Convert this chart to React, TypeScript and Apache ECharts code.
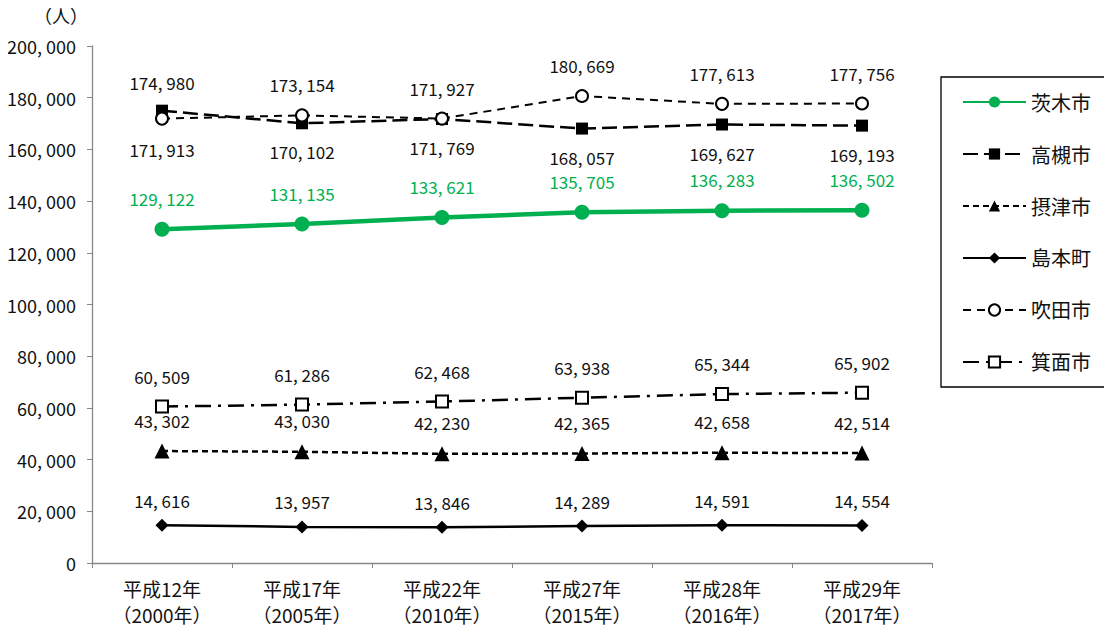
import React, { useEffect, useRef } from "react";
import * as echarts from "echarts";

const categories = ["平成12年\n（2000年）", "平成17年\n（2005年）", "平成22年\n（2010年）", "平成27年\n（2015年）", "平成28年\n（2016年）", "平成29年\n（2017年）"];
const ibaraki = [129122, 131135, 133621, 135705, 136283, 136502];
const takatsuki = [174980, 170102, 171769, 168057, 169627, 169193];
const settsu = [43302, 43030, 42230, 42365, 42658, 42514];
const shimamoto = [14616, 13957, 13846, 14289, 14591, 14554];
const suita = [171913, 173154, 171927, 180669, 177613, 177756];
const minoh = [60509, 61286, 62468, 63938, 65344, 65902];

const FONT = "'Noto Sans CJK JP', 'Noto Sans', sans-serif";
const fmt = (v: number) => v.toLocaleString("en-US").replace(/,/g, ", ");

export default function App() {
  const ref = useRef<HTMLDivElement>(null);
  useEffect(() => {
    const chart = echarts.init(ref.current!, undefined, { renderer: "svg" });
    const baseLabel = {
      show: true,
      position: "top" as const,
      distance: 15,
      fontSize: 17,
      fontFamily: FONT,
      color: "#111",
      formatter: (p: any) => fmt(p.value),
    };
    const withPos = (arr: number[], pos: (i: number) => string) =>
      arr.map((v, i) => ({ value: v, label: { position: pos(i) } }));
    chart.setOption({
      animation: false,
      backgroundColor: "#fff",
      textStyle: { fontFamily: FONT },
      graphic: [
        { type: "text", left: 34, top: 6, style: { text: "（人）", fontSize: 18, fontFamily: FONT, fill: "#111" } },
      ],
      grid: { left: 92, right: 180, top: 46, bottom: 69 },
      legend: {
        orient: "vertical",
        left: 941,
        top: 77,
        padding: [15, 14, 15, 21],
        borderColor: "#000",
        borderWidth: 1.3,
        itemWidth: 63,
        itemHeight: 14,
        itemGap: 32,
        textStyle: { fontSize: 20, fontFamily: FONT, color: "#111" },
        data: ["茨木市", "高槻市", "摂津市", "島本町", "吹田市", "箕面市"],
      },
      xAxis: {
        type: "category",
        data: categories,
        boundaryGap: true,
        axisLine: { lineStyle: { color: "#878787", width: 1.3 } },
        axisTick: { show: true, length: 5, lineStyle: { color: "#878787" } },
        axisLabel: { fontSize: 19, lineHeight: 26, color: "#111", margin: 12, fontFamily: FONT },
      },
      yAxis: {
        type: "value",
        min: 0,
        max: 200000,
        interval: 20000,
        axisLine: { show: true, lineStyle: { color: "#878787", width: 1.3 } },
        axisTick: { show: true, length: 5, lineStyle: { color: "#878787" } },
        splitLine: { show: false },
        axisLabel: { fontSize: 18, color: "#111", margin: 16, fontFamily: FONT, formatter: (v: number) => fmt(v) },
      },
      series: [
        {
          name: "茨木市",
          type: "line",
          data: ibaraki,
          symbol: "circle",
          symbolSize: 15,
          itemStyle: { color: "#00B050" },
          lineStyle: { color: "#00B050", width: 4.5 },
          label: { ...baseLabel, color: "#00B050", distance: 15 },
          z: 5,
        },
        {
          name: "高槻市",
          type: "line",
          data: withPos(takatsuki, (i) => (i === 0 ? "top" : "bottom")),
          symbol: "rect",
          symbolSize: 12,
          itemStyle: { color: "#000" },
          lineStyle: { color: "#000", width: 2.5, type: [15, 6] },
          label: { ...baseLabel, distance: 14 },
        },
        {
          name: "摂津市",
          type: "line",
          data: settsu,
          symbol: "triangle",
          symbolSize: 15,
          itemStyle: { color: "#000" },
          lineStyle: { color: "#000", width: 2.5, type: [6, 4] },
          label: { ...baseLabel, distance: 15 },
        },
        {
          name: "島本町",
          type: "line",
          data: shimamoto,
          symbol: "diamond",
          symbolSize: 13,
          itemStyle: { color: "#000" },
          lineStyle: { color: "#000", width: 2.5 },
          label: { ...baseLabel, distance: 10 },
        },
        {
          name: "吹田市",
          type: "line",
          data: withPos(suita, (i) => (i === 0 ? "bottom" : "top")),
          symbol: "emptyCircle",
          symbolSize: 12,
          itemStyle: { color: "#000", borderWidth: 2 },
          lineStyle: { color: "#000", width: 2, type: [8, 6] },
          label: { ...baseLabel },
        },
        {
          name: "箕面市",
          type: "line",
          data: minoh,
          symbol: "emptyRect",
          symbolSize: 12,
          itemStyle: { color: "#000", borderWidth: 2 },
          lineStyle: { color: "#000", width: 2.5, type: [16, 7, 3, 7] },
          label: { ...baseLabel },
        },
      ],
    });
    return () => chart.dispose();
  }, []);
  return <div ref={ref} style={{ width: 1112, height: 632, marginLeft: -8, marginTop: -8 }} />;
}
